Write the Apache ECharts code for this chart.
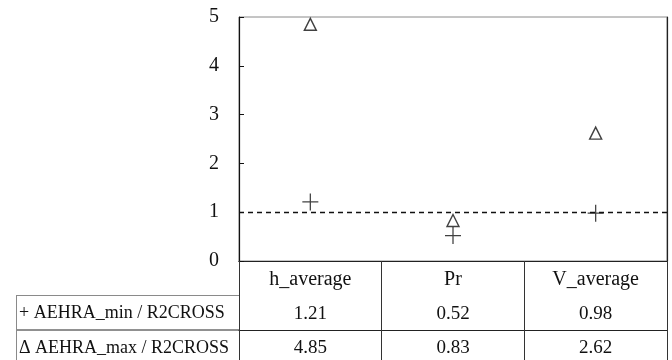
<!DOCTYPE html>
<html><head><meta charset="utf-8">
<script src="https://cdn.jsdelivr.net/npm/echarts@6/dist/echarts.min.js"></script>
<style>html,body{margin:0;padding:0;background:#fff}#c{width:672px;height:360px}</style>
</head><body><div id="c"></div>
<script>
var categories = ['h_average', 'Pr', 'V_average'];
var minValues = [1.21, 0.52, 0.98];
var maxValues = [4.85, 0.83, 2.62];
var seriesNames = ['+ AEHRA_min / R2CROSS', '\u0394 AEHRA_max / R2CROSS'];
var refValue = 1;
var yTicks = [0, 1, 2, 3, 4, 5];

var FONT = '"Liberation Serif", "Times New Roman", serif';
var chart = echarts.init(document.getElementById('c'));
var G = {left: 239, top: 17, width: 428, height: 244};
var rowH = 34.5;

function valAxis(idx, vals) {
  return {
    type: 'category', data: categories, gridIndex: 0, position: 'bottom',
    offset: rowH * idx,
    axisLine: {show: true, lineStyle: {color: '#222', width: 1}},
    axisTick: {show: false},
    splitLine: {show: false},
    axisLabel: {
      margin: rowH / 2 + 1, verticalAlign: 'middle', color: '#111',
      fontFamily: FONT, fontSize: 19,
      formatter: function (v, i) { return vals[i].toFixed(2); }
    }
  };
}

chart.setOption({
  animation: false,
  backgroundColor: '#fff',
  grid: [{left: G.left, top: G.top, width: G.width, height: G.height, show: true, borderColor: '#8a8a8a', borderWidth: 1}],
  xAxis: [
    {
      type: 'category', data: categories, position: 'bottom',
      axisLine: {show: true, lineStyle: {color: '#111', width: 1.2}},
      axisTick: {show: true, alignWithLabel: false, length: 110, lineStyle: {color: '#333', width: 1}},
      splitLine: {show: false},
      axisLabel: {margin: rowH / 2 + 1, verticalAlign: 'middle', color: '#111', fontFamily: FONT, fontSize: 20}
    },
    valAxis(1, minValues),
    valAxis(2, maxValues)
  ],
  yAxis: [
    {
      type: 'value', min: yTicks[0], max: yTicks[yTicks.length - 1], interval: 1,
      axisLine: {show: true, lineStyle: {color: '#111', width: 1.2}},
      axisTick: {show: true, inside: true, length: 5, lineStyle: {color: '#111'}},
      splitLine: {show: false},
      axisLabel: {margin: 20, color: '#111', fontFamily: FONT, fontSize: 20}
    },
    {
      type: 'value', min: 0, max: 5, interval: 1, position: 'right',
      axisLine: {show: true, lineStyle: {color: '#222', width: 1.2}},
      axisTick: {show: false}, axisLabel: {show: false}, splitLine: {show: false}
    }
  ],
  series: [
    {
      name: seriesNames[0], type: 'scatter', xAxisIndex: 0, yAxisIndex: 0,
      data: categories.map(function (c, i) { return [c, minValues[i]]; }),
      symbol: 'path://M0,8L16,8M8,0L8,16', symbolSize: [16, 17],
      itemStyle: {color: 'none', borderColor: '#111', borderWidth: 1.3},
      markLine: {
        silent: true, symbol: 'none', label: {show: false},
        lineStyle: {color: '#111', type: [5, 4], width: 1.3},
        data: [{yAxis: refValue}]
      },
      z: 3
    },
    {
      name: seriesNames[1], type: 'scatter', xAxisIndex: 0, yAxisIndex: 0,
      data: categories.map(function (c, i) { return [c, maxValues[i]]; }),
      symbol: 'triangle', symbolSize: [12, 12],
      itemStyle: {color: '#fff', borderColor: '#111', borderWidth: 1.4},
      z: 4
    }
  ]
});

var top1 = G.top + G.height + rowH;
var top2 = top1 + rowH;
chart.setOption({
  graphic: [
    {type: 'line', shape: {x1: 16, y1: top1, x2: G.left, y2: top1}, style: {stroke: '#8a8a8a', lineWidth: 1}},
    {type: 'line', shape: {x1: 16, y1: top2, x2: G.left, y2: top2}, style: {stroke: '#222', lineWidth: 1}},
    {type: 'line', shape: {x1: 16.5, y1: top1, x2: 16.5, y2: 372}, style: {stroke: '#8a8a8a', lineWidth: 1}},
    {type: 'text', x: 19, y: top1 + rowH / 2 + 1, style: {text: seriesNames[0], fill: '#111', fontFamily: FONT, fontSize: 18, verticalAlign: 'middle'}},
    {type: 'text', x: 19, y: top2 + rowH / 2 + 1, style: {text: seriesNames[1], fill: '#111', fontFamily: FONT, fontSize: 18, verticalAlign: 'middle'}}
  ]
});
</script></body></html>
